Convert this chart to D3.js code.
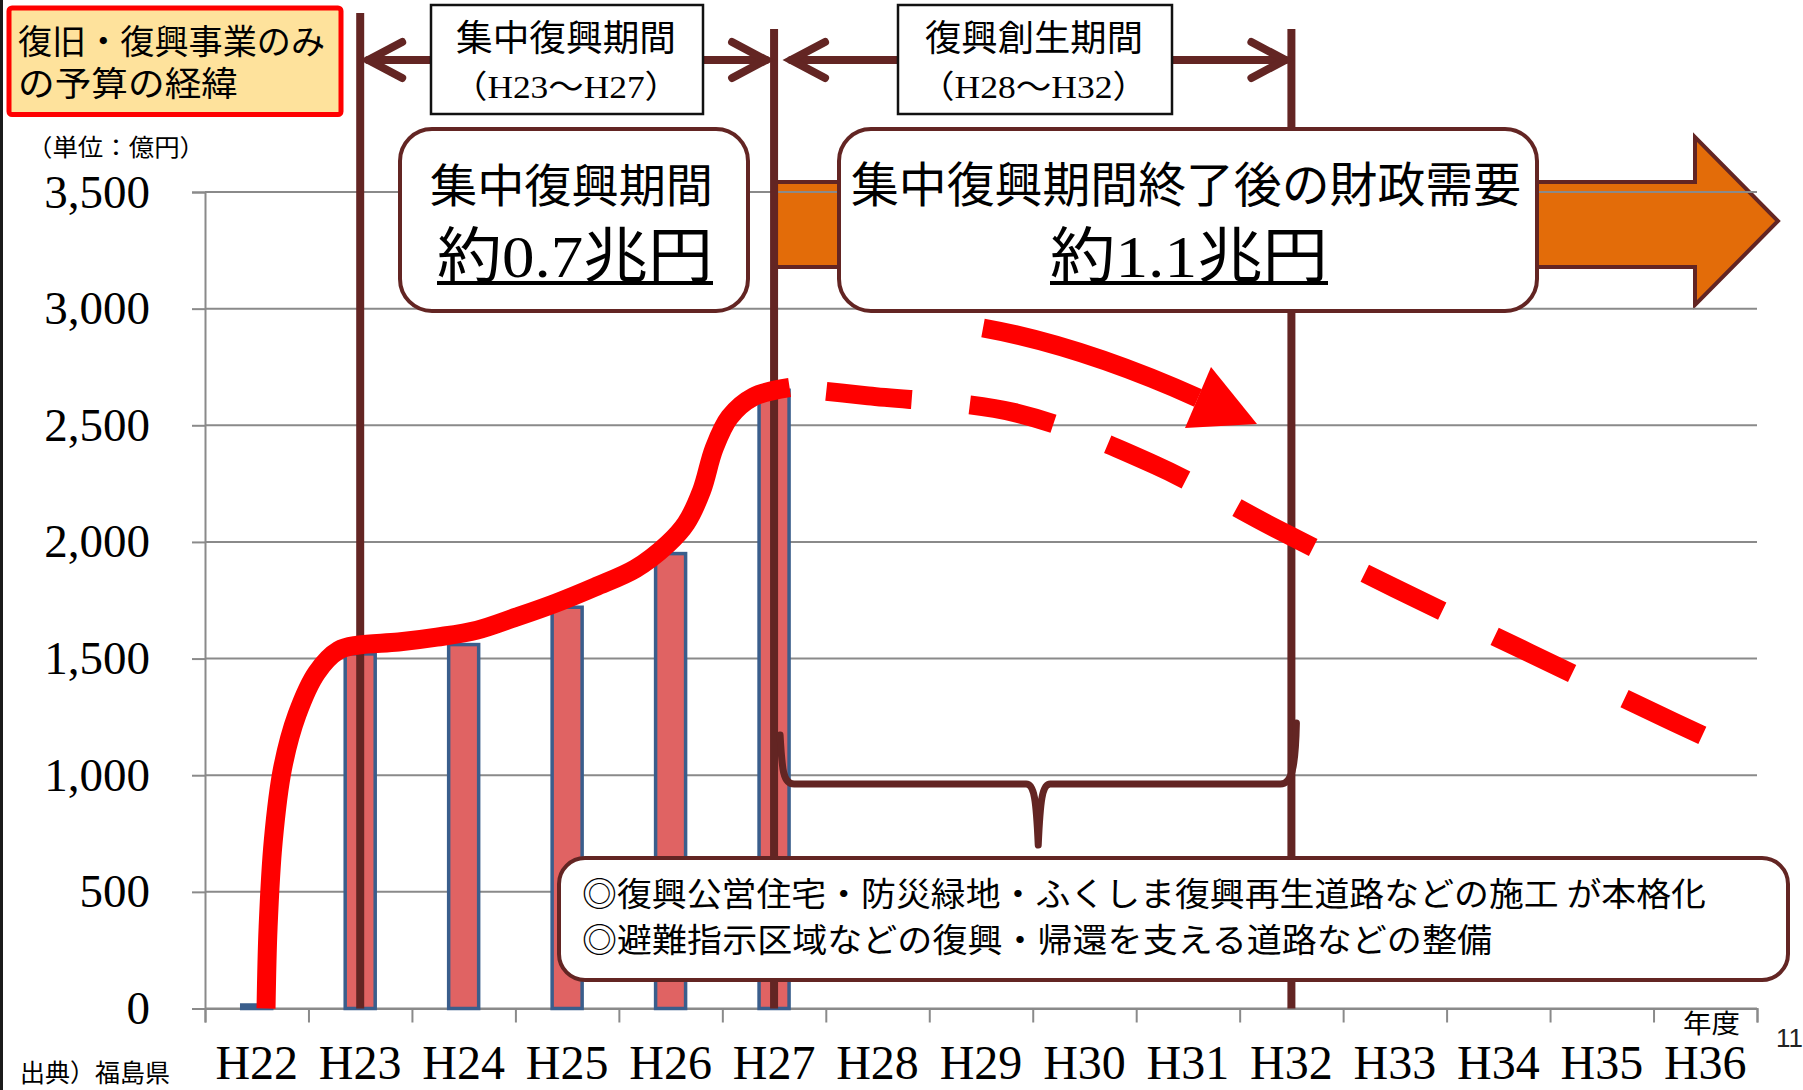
<!DOCTYPE html>
<html>
<head>
<meta charset="utf-8">
<script src="https://cdn.jsdelivr.net/npm/d3@7"></script>
<style>
  body { margin: 0; background: #fff; }
  svg { display: block; }
</style>
</head>
<body>
<svg id="chart" width="1803" height="1090"></svg>
<script>
// ---- data ----
const years = ["H22","H23","H24","H25","H26","H27","H28","H29","H30","H31","H32","H33","H34","H35","H36"];
const budgetYears = ["H22","H23","H24","H25","H26","H27"];
const budgetValues = [15, 1520, 1560, 1720, 1950, 2650];          // 億円
const yTicks = [0, 500, 1000, 1500, 2000, 2500, 3000, 3500];
// trend line: [year position (0 = H22), 億円]
const trendActual = [[0.09,0],[0.11,350],[0.16,720],[0.25,1030],[0.39,1260],[0.58,1440],[0.79,1535],
  [0.98,1558],[1.37,1571],[1.74,1592],[2.13,1622],[2.51,1678],[2.89,1738],[3.27,1807],[3.66,1885],
  [3.97,1990],[4.15,2080],[4.30,2220],[4.42,2400],[4.57,2535],[4.80,2622],[5.15,2662]];
const trendProjected = [[5.15,2662],[5.91,2626],[7.34,2553],[8.68,2330],[9.84,2060],[11.0,1802],
  [12.3,1524],[13.59,1250],[14.0,1165]];

// ---- layout & style ----
const M = { left: 205, right: 1757, top: 192, bottom: 1008.5 };
const BROWN = "#632523", RED = "#FF0000", GRID = "#8a8a8a";
const CJK = "'Noto Sans CJK JP', sans-serif";
const SERIF = "'Liberation Serif', 'Noto Sans CJK JP', serif";

const svg = d3.select("#chart");
svg.append("rect").attr("width", 1803).attr("height", 1090).attr("fill", "#fff");

const x = d3.scaleBand().domain(years).range([M.left, M.right]).padding(0);
const xEdge = d3.scaleLinear().domain([0, years.length]).range([M.left, M.right]);
const xPos = d3.scaleLinear().domain([-0.5, years.length - 0.5]).range([M.left, M.right]);
const y = d3.scaleLinear().domain([0, 3500]).range([M.bottom, M.top]);
const xc = n => x(n) + x.bandwidth() / 2;

function label(g, o) {
  const t = g.append("text")
    .attr("x", o.x).attr("y", o.y)
    .attr("font-family", o.family || CJK)
    .attr("font-size", o.size)
    .attr("fill", o.fill || "#000")
    .attr("text-anchor", o.anchor || "start")
    .text(o.text);
  if (o.len) t.attr("textLength", o.len).attr("lengthAdjust", "spacingAndGlyphs");
  if (o.weight) t.attr("font-weight", o.weight);
  return t;
}

// slide edge
svg.append("rect").attr("x", 0).attr("y", 0).attr("width", 3).attr("height", 1090).attr("fill", "#1b1b1b");

// ---- big orange arrow (post-period demand) ----
const aL = xc("H27"), aBase = 1695, aTip = 1778;
svg.append("path")
  .attr("d", `M${aL},182 H${aBase} V137 L${aTip},221 L${aBase},305 V267 H${aL} Z`)
  .attr("fill", "#E36C09").attr("stroke", BROWN).attr("stroke-width", 4).attr("stroke-linejoin", "miter");

// ---- grid and axes ----
svg.append("g").selectAll("line").data(yTicks).join("line")
  .attr("x1", M.left).attr("x2", M.right)
  .attr("y1", d => y(d)).attr("y2", d => y(d))
  .attr("stroke", GRID).attr("stroke-width", 2);

const yAxis = svg.append("g").attr("transform", `translate(${M.left},0)`)
  .call(d3.axisLeft(y).tickValues(yTicks).tickSize(13).tickPadding(42).tickFormat(d3.format(",")));
yAxis.select(".domain").attr("stroke", GRID).attr("stroke-width", 2);
yAxis.selectAll(".tick line").attr("stroke", GRID).attr("stroke-width", 2);
yAxis.selectAll(".tick text").attr("font-family", SERIF).attr("font-size", 47).attr("fill", "#000");

const xTicks = svg.append("g").attr("transform", `translate(0,${M.bottom})`)
  .call(d3.axisBottom(xEdge).tickValues(d3.range(years.length + 1)).tickSize(14).tickFormat(""));
xTicks.select(".domain").attr("stroke", GRID).attr("stroke-width", 2);
xTicks.selectAll(".tick line").attr("stroke", GRID).attr("stroke-width", 2);

const xLabels = svg.append("g").attr("transform", `translate(0,${M.bottom})`)
  .call(d3.axisBottom(x).tickSize(0));
xLabels.select(".domain").remove();
xLabels.selectAll(".tick text").attr("y", 70).attr("dy", null)
  .attr("font-family", SERIF).attr("font-size", 48).attr("fill", "#000");

// ---- bars ----
const barW = 30;
svg.append("g").selectAll("rect").data(budgetYears.map((k, i) => ({ k, v: budgetValues[i] }))).join("rect")
  .attr("x", d => xc(d.k) - barW / 2)
  .attr("width", barW)
  .attr("y", d => y(d.v))
  .attr("height", d => y(0) - y(d.v))
  .attr("fill", "#E06363").attr("stroke", "#3A5E8C").attr("stroke-width", 3.5);

// ---- period dividers ----
[["H23", 13], ["H27", 29], ["H32", 29]].forEach(([k, top]) => {
  svg.append("line").attr("x1", xc(k)).attr("x2", xc(k)).attr("y1", top).attr("y2", M.bottom)
    .attr("stroke", BROWN).attr("stroke-width", 8);
});

// ---- double arrows with period boxes ----
function doubleArrow(x1, x2, yy) {
  const g = svg.append("g").attr("stroke", BROWN).attr("stroke-width", 8).attr("fill", "none")
    .attr("stroke-linecap", "round").attr("stroke-linejoin", "miter");
  g.append("line").attr("x1", x1).attr("x2", x2).attr("y1", yy).attr("y2", yy);
  g.append("path").attr("d", `M${x1 + 34},${yy - 18} L${x1},${yy} L${x1 + 34},${yy + 18}`);
  g.append("path").attr("d", `M${x2 - 34},${yy - 18} L${x2},${yy} L${x2 - 34},${yy + 18}`);
}
doubleArrow(xc("H23") + 8, xc("H27") - 8, 60);
doubleArrow(xc("H27") + 17, xc("H32") - 6, 60);

function periodBox(x0, w, title, range, tStart, tLen, rStart, rLen) {
  svg.append("rect").attr("x", x0).attr("y", 5).attr("width", w).attr("height", 109)
    .attr("fill", "#fff").attr("stroke", "#111").attr("stroke-width", 2.5);
  label(svg, { x: tStart, y: 51, text: title, size: 36, len: tLen });
  label(svg, { x: rStart, y: 98, text: range, size: 32, family: SERIF, len: rLen });
}
periodBox(431, 272, "集中復興期間", "（H23～H27）", 456, 220, 452, 228);
periodBox(898, 274, "復興創生期間", "（H28～H32）", 925, 218, 919, 229);

// ---- amount call-outs ----
function amountBox(x0, w, line1, l1Start, l1Len, l1Size, line2, l2Start, l2Len) {
  svg.append("rect").attr("x", x0).attr("y", 129).attr("width", w).attr("height", 182).attr("rx", 32)
    .attr("fill", "#fff").attr("stroke", BROWN).attr("stroke-width", 4);
  label(svg, { x: l1Start, y: 202, text: line1, size: l1Size, len: l1Len });
  label(svg, { x: l2Start, y: 277, text: line2, size: 60, family: SERIF, len: l2Len });
  svg.append("rect").attr("x", l2Start).attr("y", 281).attr("width", l2Len).attr("height", 4).attr("fill", "#000");
}
amountBox(400, 348, "集中復興期間", 430, 283, 46, "約0.7兆円", 437, 276);
amountBox(839, 698, "集中復興期間終了後の財政需要", 851, 670, 48, "約1.1兆円", 1050, 278);

// ---- brace over H28–H32 ----
{
  const L = xc("H27") + 6, R = xc("H32") + 5, Mx = (L + R) / 2;
  svg.append("path")
    .attr("d", `M${L},735 C${L + 2},770 ${L + 3},784 ${L + 14},784 H${Mx - 12} ` +
      `C${Mx - 4},784 ${Mx - 2},800 ${Mx},845 C${Mx + 2},800 ${Mx + 4},784 ${Mx + 12},784 ` +
      `H${R - 16} C${R - 5},784 ${R - 1},770 ${R},723`)
    .attr("fill", "none").attr("stroke", BROWN).attr("stroke-width", 7)
    .attr("stroke-linecap", "round").attr("stroke-linejoin", "round");
}

// ---- project note ----
svg.append("rect").attr("x", 559).attr("y", 858).attr("width", 1229).attr("height", 122).attr("rx", 26)
  .attr("fill", "#fff").attr("stroke", BROWN).attr("stroke-width", 4);
label(svg, { x: 582, y: 906, text: "◎復興公営住宅・防災緑地・ふくしま復興再生道路などの施工 が本格化", size: 33, len: 1124 });
label(svg, { x: 582, y: 952, text: "◎避難指示区域などの復興・帰還を支える道路などの整備", size: 33, len: 910 });

// ---- trend lines ----
const line = d3.line().x(d => xPos(d[0])).y(d => y(d[1])).curve(d3.curveCatmullRom.alpha(0.5));
svg.append("path").attr("d", line(trendActual))
  .attr("fill", "none").attr("stroke", RED).attr("stroke-width", 19).attr("stroke-linecap", "butt");
svg.append("path").attr("d", line(trendProjected))
  .attr("fill", "none").attr("stroke", RED).attr("stroke-width", 19)
  .attr("stroke-dasharray", "86,58").attr("stroke-dashoffset", 107).attr("stroke-linecap", "butt");

// curved arrow
svg.append("path").attr("d", "M983,328 Q1082,346 1198,398")
  .attr("fill", "none").attr("stroke", RED).attr("stroke-width", 19);
svg.append("path").attr("d", "M1211,367 L1257,424 L1185,428 Z").attr("fill", RED);

// ---- title, units, notes ----
svg.append("rect").attr("x", 9).attr("y", 8).attr("width", 332).attr("height", 106.5).attr("rx", 3)
  .attr("fill", "#FEE29C").attr("stroke", RED).attr("stroke-width", 5);
label(svg, { x: 18, y: 54, text: "復旧・復興事業のみ", size: 34, len: 307 });
label(svg, { x: 18, y: 96, text: "の予算の経緯", size: 34, len: 220 });
label(svg, { x: 27, y: 156, text: "（単位：億円）", size: 24, len: 178 });
label(svg, { x: 1683, y: 1033, text: "年度", size: 26, len: 57 });
label(svg, { x: 20, y: 1082, text: "出典）福島県", size: 25 });
label(svg, { x: 1776, y: 1047, text: "11", size: 26, family: "'Liberation Sans', Arial, sans-serif", fill: "#222" });
</script>
</body>
</html>
